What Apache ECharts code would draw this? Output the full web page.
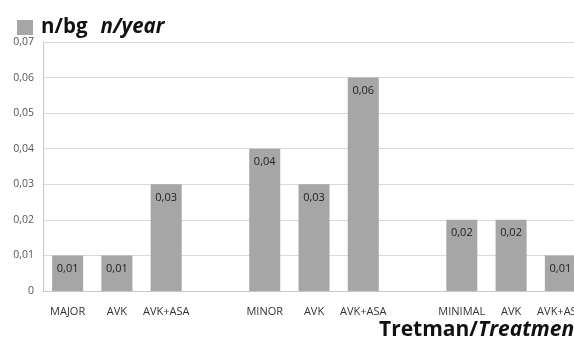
<!DOCTYPE html>
<html>
<head>
<meta charset="utf-8">
<script src="https://cdn.jsdelivr.net/npm/echarts@6/dist/echarts.min.js"></script>
<style>
  html, body { margin: 0; padding: 0; background: #fff; overflow: hidden; }
  #chart { width: 574px; height: 342px; }
</style>
</head>
<body>
<div id="chart"></div>
<script>
// Treatment groups; empty slots separate the three groups
const categories = ['MAJOR', 'AVK', 'AVK+ASA', '', 'MINOR', 'AVK', 'AVK+ASA', '', 'MINIMAL', 'AVK', 'AVK+ASA'];
const rates = [0.01, 0.01, 0.03, null, 0.04, 0.03, 0.06, null, 0.02, 0.02, 0.01];
const seriesName = 'n/bg n/year';
const yMin = 0, yMax = 0.07, yStep = 0.01;

const comma = v => (v === 0 ? '0' : v.toFixed(2).replace('.', ','));
const FONT = '"Open Sans", "DejaVu Sans", sans-serif';

const chart = echarts.init(document.getElementById('chart'));
chart.setOption({
  animation: false,
  backgroundColor: '#ffffff',
  // the plot runs past the right edge of the canvas
  grid: { left: 43, top: 42, height: 249, width: 542, containLabel: false, outerBoundsMode: 'none' },
  legend: {
    left: 12, top: 12,
    icon: 'rect', itemWidth: 16, itemHeight: 15, itemGap: 10,
    data: [seriesName],
    formatter: () => '{a|n/bg}{b|n/year}',
    textStyle: {
      padding: [0, 0, 0, 3],
      rich: {
        a: { fontFamily: FONT, fontSize: 20.5, fontWeight: 'bold', color: '#111' },
        b: { fontFamily: FONT, fontSize: 20.5, fontWeight: 'bold', fontStyle: 'italic', color: '#111', padding: [0, 0, 0, 13] }
      }
    }
  },
  xAxis: {
    type: 'category',
    data: categories,
    axisLine: { show: true, lineStyle: { color: '#c8c8c8', width: 1 } },
    axisTick: { show: false },
    axisLabel: { interval: 0, color: '#333', fontFamily: FONT, fontSize: 11, margin: 15 }
  },
  yAxis: {
    type: 'value',
    min: yMin, max: yMax, interval: yStep,
    axisLine: { show: true, lineStyle: { color: '#c8c8c8', width: 1 } },
    axisTick: { show: false },
    splitLine: { lineStyle: { color: '#d9d9d9', width: 1 } },
    axisLabel: { color: '#555', fontFamily: FONT, fontSize: 10.5, margin: 9, formatter: comma }
  },
  graphic: [{
    type: 'text',
    left: 379, top: 320,
    style: {
      text: '{a|Tretman/}{b|Treatment}',
      rich: {
        a: { fontFamily: FONT, fontSize: 21, fontWeight: 'bold', fill: '#111' },
        b: { fontFamily: FONT, fontSize: 21, fontWeight: 'bold', fontStyle: 'italic', fill: '#111' }
      }
    }
  }],
  series: [{
    name: seriesName,
    type: 'bar',
    data: rates,
    barWidth: 31,
    itemStyle: { color: '#a6a6a6' },
    label: {
      show: true,
      position: 'insideTop',
      distance: 8,
      color: '#222',
      fontFamily: FONT,
      fontSize: 11,
      formatter: p => comma(p.value)
    }
  }]
});
</script>
</body>
</html>
